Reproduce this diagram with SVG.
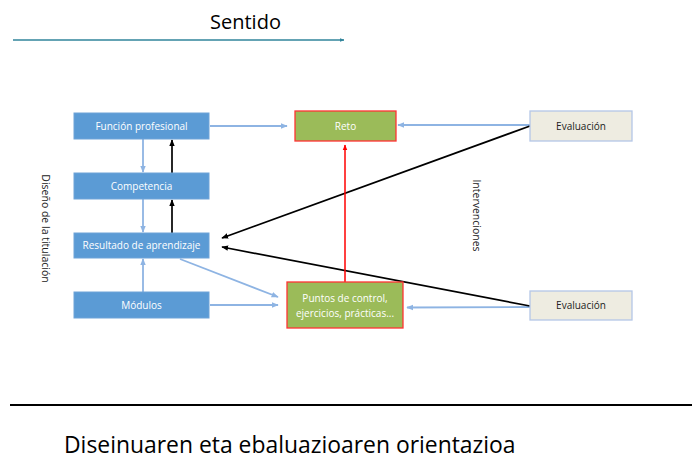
<svg xmlns="http://www.w3.org/2000/svg" width="692" height="459" viewBox="0 0 692 459">
<style>
.t{font-family:"Open Sans","Noto Sans","Liberation Sans",sans-serif;}
.blue{fill:#5B9BD5;stroke:#6FA3D8;stroke-width:1}
.green{fill:#9BBB59;stroke:#FF3333;stroke-width:1.3}
.eval{fill:#EEECE1;stroke:#B4C7E7;stroke-width:1.3}
.wl{fill:#FFFFFF;font-size:10px;text-anchor:middle}
.dl{fill:#222222;font-size:10px;text-anchor:middle}
.lc{stroke:#8EB4E3;stroke-width:1.8;fill:none}
.bk{stroke:#000000;stroke-width:1.7;fill:none}
.rd{stroke:#FF0000;stroke-width:1.5;fill:none}
</style>
<defs>
<marker id="ab" viewBox="0 0 10 10" refX="9" refY="5" markerWidth="4" markerHeight="4" orient="auto"><path d="M0,1 L10,5 L0,9 z" fill="#8EB4E3"/></marker>
<marker id="ak" viewBox="0 0 10 10" refX="9" refY="5" markerWidth="4" markerHeight="4" orient="auto"><path d="M0,1 L10,5 L0,9 z" fill="#000000"/></marker>
<marker id="ar" viewBox="0 0 10 10" refX="9" refY="5" markerWidth="4" markerHeight="4" orient="auto"><path d="M0,1 L10,5 L0,9 z" fill="#FF0000"/></marker>
<marker id="at" viewBox="0 0 10 10" refX="9" refY="5" markerWidth="3" markerHeight="3" orient="auto"><path d="M0,1 L10,5 L0,9 z" fill="#31849B"/></marker>
</defs>
<rect width="692" height="459" fill="#FFFFFF"/>
<text class="t" x="245.5" y="29" font-size="20" text-anchor="middle" fill="#000">Sentido</text>
<line x1="13" y1="40" x2="344" y2="40" stroke="#31849B" stroke-width="1.5" marker-end="url(#at)"/>
<g id="connectors">
<line class="lc" x1="210" y1="126" x2="287" y2="126" marker-end="url(#ab)"/>
<line class="lc" x1="530" y1="125" x2="398" y2="125" marker-end="url(#ab)"/>
<line class="lc" x1="143" y1="139" x2="143" y2="172" marker-end="url(#ab)"/>
<line class="lc" x1="143" y1="199" x2="143" y2="232" marker-end="url(#ab)"/>
<line class="lc" x1="143" y1="292" x2="143" y2="259" marker-end="url(#ab)"/>
<line class="lc" x1="180" y1="259" x2="278" y2="297" marker-end="url(#ab)"/>
<line class="lc" x1="210" y1="305" x2="278" y2="305" marker-end="url(#ab)"/>
<line class="lc" x1="530" y1="307" x2="407" y2="307.5" marker-end="url(#ab)"/>
<line class="bk" x1="172" y1="173" x2="172" y2="140" marker-end="url(#ak)"/>
<line class="bk" x1="172" y1="233" x2="172" y2="200" marker-end="url(#ak)"/>
<line class="bk" x1="530" y1="126" x2="222" y2="238" marker-end="url(#ak)"/>
<line class="bk" x1="530" y1="306" x2="222" y2="247" marker-end="url(#ak)"/>
<line class="rd" x1="345" y1="282" x2="345" y2="145" marker-end="url(#ar)"/>
</g>
<g id="funcion"><rect class="blue" x="74" y="113" width="135" height="26"/><text class="t wl" x="141.5" y="129.5">Función profesional</text></g>
<g id="competencia"><rect class="blue" x="74" y="173" width="135" height="26"/><text class="t wl" x="141.5" y="189.5">Competencia</text></g>
<g id="resultado"><rect class="blue" x="74" y="233" width="135" height="25"/><text class="t wl" x="141.5" y="249">Resultado de aprendizaje</text></g>
<g id="modulos"><rect class="blue" x="74" y="292" width="135" height="26"/><text class="t wl" x="141.5" y="308.5">Módulos</text></g>
<g id="reto"><rect class="green" x="295" y="111" width="101" height="30"/><text class="t wl" x="345.5" y="129.5">Reto</text></g>
<g id="puntos"><rect class="green" x="287" y="282" width="116" height="46"/><text class="t wl" x="345" y="302">Puntos de control,</text><text class="t wl" x="345" y="317">ejercicios, prácticas...</text></g>
<g id="evaluacion1"><rect class="eval" x="530" y="111" width="102" height="30"/><text class="t dl" x="581" y="129.5">Evaluación</text></g>
<g id="evaluacion2"><rect class="eval" x="530" y="291" width="102" height="29"/><text class="t dl" x="581" y="309">Evaluación</text></g>
<text class="t" x="0" y="0" font-size="10.5" fill="#222" text-anchor="middle" transform="translate(42,228.5) rotate(90)">Diseño de la titulación</text>
<text class="t" x="0" y="0" font-size="10.5" fill="#222" text-anchor="middle" transform="translate(473,215.5) rotate(90)">Intervenciones</text>
<line x1="10" y1="405" x2="692" y2="405" stroke="#000" stroke-width="2"/>
<text class="t" x="64" y="453" font-size="22.9" fill="#000">Diseinuaren eta ebaluazioaren orientazioa</text>
</svg>
